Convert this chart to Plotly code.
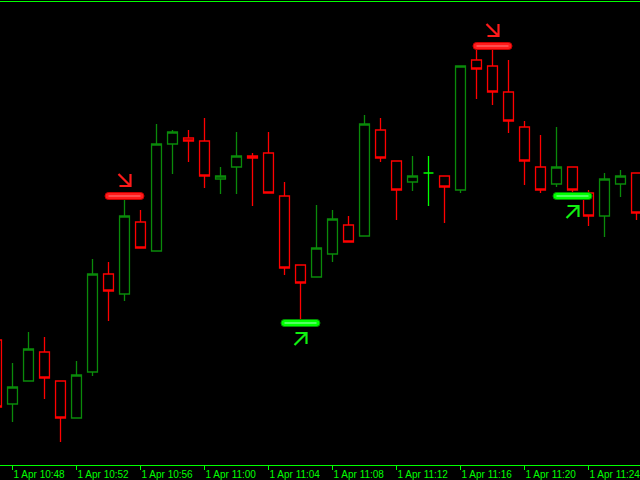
import plotly.graph_objects as go
import pandas as pd

# ---- data (M1 candles, 1 Apr) ----
times = pd.date_range("2024-04-01 10:47", periods=41, freq="1min")
opens = [1.08625, 1.08561, 1.08584, 1.08613, 1.08584, 1.08547, 1.08593, 1.08691, 1.08671, 1.08743,
         1.08714, 1.08821, 1.08827, 1.08824, 1.08786, 1.08798, 1.08809, 1.08812, 1.08769, 1.08700,
         1.08688, 1.08711, 1.08740, 1.08729, 1.08835, 1.08804, 1.08783, 1.08792, 1.08789, 1.08775,
         1.08905, 1.08899, 1.08873, 1.08838, 1.08798, 1.08781, 1.08798, 1.08772, 1.08749, 1.08781,
         1.08792]
highs = [1.08633, 1.08602, 1.08633, 1.08628, 1.08584, 1.08604, 1.08706, 1.08703, 1.08766, 1.08755,
         1.08841, 1.08835, 1.08835, 1.08847, 1.08798, 1.08833, 1.08812, 1.08833, 1.08783, 1.08700,
         1.08760, 1.08755, 1.08749, 1.08850, 1.08847, 1.08804, 1.08809, 1.08809, 1.08789, 1.08899,
         1.08915, 1.08915, 1.08905, 1.08844, 1.08830, 1.08838, 1.08798, 1.08775, 1.08792, 1.08795,
         1.08792]
lows = [1.08553, 1.08543, 1.08584, 1.08566, 1.08523, 1.08547, 1.08589, 1.08644, 1.08664, 1.08717,
        1.08714, 1.08791, 1.08803, 1.08777, 1.08771, 1.08771, 1.08759, 1.08772, 1.08690, 1.08646,
        1.08688, 1.08703, 1.08723, 1.08729, 1.08803, 1.08745, 1.08774, 1.08759, 1.08742, 1.08772,
        1.08866, 1.08860, 1.08832, 1.08780, 1.08772, 1.08778, 1.08773, 1.08739, 1.08728, 1.08768,
        1.08745]
closes = [1.08558, 1.08578, 1.08616, 1.08587, 1.08547, 1.08590, 1.08691, 1.08674, 1.08749, 1.08717,
          1.08821, 1.08833, 1.08824, 1.08789, 1.08789, 1.08809, 1.08807, 1.08772, 1.08697, 1.08682,
          1.08717, 1.08746, 1.08723, 1.08841, 1.08807, 1.08775, 1.08789, 1.08792, 1.08778, 1.08899,
          1.08896, 1.08873, 1.08844, 1.08804, 1.08775, 1.08798, 1.08775, 1.08749, 1.08786, 1.08789,
          1.08752]

signal_times = ["2024-04-01 10:55", "2024-04-01 11:06", "2024-04-01 11:18", "2024-04-01 11:23"]
signal_levels = [1.08769, 1.08642, 1.08919, 1.08769]
signal_types = ["sell", "buy", "sell", "buy"]

# ---- styles ----
BULL = "#0a8a0a"
BEAR = "#ff0000"
DOJI = "#00ff00"
AXIS = "#00ff00"

fig = go.Figure()

def add_candles(idx, inc_color, dec_color, name):
    fig.add_trace(go.Candlestick(
        x=[times[i] for i in idx],
        open=[opens[i] for i in idx], high=[highs[i] for i in idx],
        low=[lows[i] for i in idx], close=[closes[i] for i in idx],
        increasing=dict(line=dict(color=inc_color, width=1.3), fillcolor="black"),
        decreasing=dict(line=dict(color=dec_color, width=1.3), fillcolor="black"),
        whiskerwidth=0, name=name, showlegend=False, hoverinfo="skip",
    ))

n = len(times)
normal = [i for i in range(n) if opens[i] != closes[i]]
doji = [i for i in range(n) if opens[i] == closes[i]]
add_candles(normal, BULL, BEAR, "candles")
add_candles(doji, DOJI, DOJI, "doji")

# ---- signal markers (bars + arrows), sized in pixels around each signal level ----
bar_path = ("M-16,-3.5 L16,-3.5 Q19.5,-3.5 19.5,0 Q19.5,3.5 16,3.5 "
            "L-16,3.5 Q-19.5,3.5 -19.5,0 Q-19.5,-3.5 -16,-3.5 Z")
for t, lvl, kind in zip(signal_times, signal_levels, signal_types):
    if kind == "sell":
        fill, edge, inner, arrow_col = "#ff1a1a", "#c80000", "#ff8080", "#ff1a1a"
        arrow = "M-6,22 L6,10 M6,22 L6,10 L-5,10"
    else:
        fill, edge, inner, arrow_col = "#00ff00", "#009000", "#a0ffc0", "#10f010"
        arrow = "M-6,-22 L6,-10 M6,-21 L6,-10 L-5,-10"
    common = dict(xref="x", yref="y", xsizemode="pixel", ysizemode="pixel",
                  xanchor=t, yanchor=lvl, layer="above")
    fig.add_shape(type="path", path=bar_path, fillcolor=fill,
                  line=dict(color=edge, width=1), **common)
    fig.add_shape(type="path", path="M-16,0 L16,0",
                  line=dict(color=inner, width=1), **common)
    fig.add_shape(type="path", path=arrow,
                  line=dict(color=arrow_col, width=2.2), **common)

fig.update_layout(
    width=640, height=480,
    margin=dict(l=0, r=0, t=2, b=15, pad=0),
    paper_bgcolor="black", plot_bgcolor="black",
    boxgap=0, boxgroupgap=0.38,
    showlegend=False,
    xaxis=dict(
        type="date",
        range=["2024-04-01 10:47:13.125", "2024-04-01 11:27:13.125"],
        rangeslider=dict(visible=False),
        automargin=False,
        showgrid=False, zeroline=False,
        showline=True, linecolor=AXIS, linewidth=1, mirror=True,
        ticks="outside", ticklen=4, tickcolor=AXIS, tickwidth=1,
        tick0="2024-04-01 10:48", dtick=240000,
        tickformat="%-d %b %H:%M", tickangle=0,
        ticklabelposition="outside right",
        ticklabeloverflow="allow",
        tickfont=dict(family="Liberation Sans, Arial", size=10, color=AXIS),
    ),
    yaxis=dict(
        range=[1.08500, 1.08963], automargin=False,
        showgrid=False, zeroline=False, showticklabels=False, showline=False, ticks="",
    ),
)

fig.write_html(
    "out.html",
    config={"displayModeBar": False},
    post_script="document.body.style.margin='0';document.body.style.background='black';",
)
